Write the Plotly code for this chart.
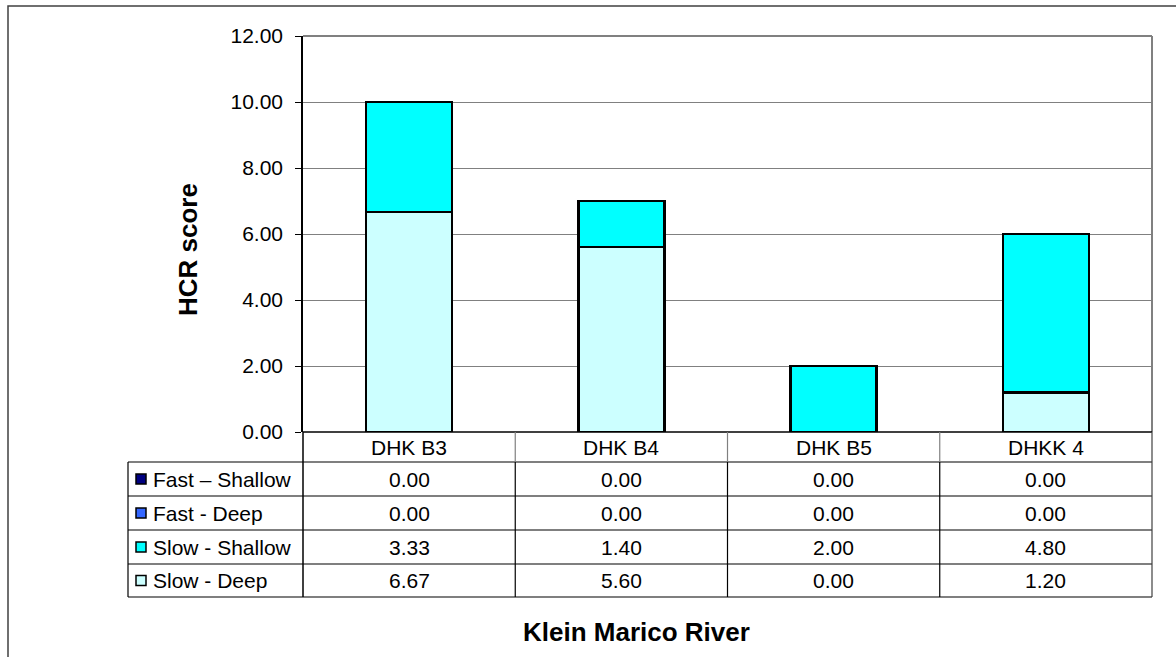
import plotly.graph_objects as go

# ---- data ----
categories = ["DHK B3", "DHK B4", "DHK B5", "DHKK 4"]
series_names = ["Fast \u2013 Shallow", "Fast - Deep", "Slow - Shallow", "Slow - Deep"]
fast_shallow = [0.00, 0.00, 0.00, 0.00]
fast_deep = [0.00, 0.00, 0.00, 0.00]
slow_shallow = [3.33, 1.40, 2.00, 4.80]
slow_deep = [6.67, 5.60, 0.00, 1.20]
series_colors = ["#000080", "#3366FF", "#00FFFF", "#CCFFFF"]
y_title = "HCR score"
x_title = "Klein Marico River"

W, H = 1176, 657
L, R, T, B = 303, 1152, 36, 432  # plot area in pixels
FONT = "Liberation Sans, Arial, sans-serif"
FS = 21


def px(x):
    return (x - L) / (R - L)


def py(y):
    return (B - y) / (B - T)


fig = go.Figure()
series_values = [fast_shallow, fast_deep, slow_shallow, slow_deep]
# stack from bottom: Slow - Deep, Slow - Shallow, Fast - Deep, Fast - Shallow
for idx in [3, 2, 1, 0]:
    fig.add_trace(go.Bar(
        x=categories, y=series_values[idx], name=series_names[idx],
        marker=dict(color=series_colors[idx], line=dict(color="black", width=2.5)),
        showlegend=False,
    ))

shapes = []
annotations = []


def hline(y, x0, x1, color="black", width=1):
    shapes.append(dict(type="line", xref="paper", yref="paper",
                       x0=px(x0), x1=px(x1), y0=py(y), y1=py(y),
                       line=dict(color=color, width=width)))


def vline(x, y0, y1, color="black", width=1):
    shapes.append(dict(type="line", xref="paper", yref="paper",
                       x0=px(x), x1=px(x), y0=py(y0), y1=py(y1),
                       line=dict(color=color, width=width)))


# outer chart border (extends beyond the visible picture)
shapes.append(dict(type="rect", xref="paper", yref="paper",
                   x0=px(8), x1=px(1300), y0=py(6), y1=py(800),
                   line=dict(color="#404040", width=1.5), layer="below"))
# plot area border (top / right gray)
hline(T, L, R, color="#808080", width=2)
vline(R, T, B, color="#808080", width=2)

# table geometry
tab_left = 128
row_edges = [462, 496, 530, 564, 597]
ncat = len(categories)
col_w = (R - L) / ncat
col_edges = [L + i * col_w for i in range(ncat + 1)]

hline(B, L, R, color="black", width=1.5)
for y in row_edges:
    hline(y, tab_left, R, color="black", width=1.2)
vline(tab_left, row_edges[0], row_edges[-1], color="black", width=1.2)
vline(L, B, row_edges[-1], color="black", width=1.5)
for x in col_edges[1:-1]:
    vline(x, B, row_edges[0], color="#808080", width=1.2)
    vline(x, row_edges[0], row_edges[-1], color="black", width=1.2)
vline(R, B, row_edges[-1], color="#404040", width=1.2)

# header labels
for i, cat in enumerate(categories):
    annotations.append(dict(xref="paper", yref="paper",
                            x=px(col_edges[i] + col_w / 2), y=py((B + row_edges[0]) / 2),
                            text=cat, showarrow=False, xanchor="center", yanchor="middle",
                            font=dict(family=FONT, size=FS, color="black")))

# rows
for r, (name, vals, col) in enumerate(zip(series_names, series_values, series_colors)):
    yc = (row_edges[r] + row_edges[r + 1]) / 2
    shapes.append(dict(type="rect", xref="paper", yref="paper",
                       x0=px(136), x1=px(146), y0=py(yc - 5), y1=py(yc + 5),
                       fillcolor=col, line=dict(color="black", width=1.5)))
    annotations.append(dict(xref="paper", yref="paper", x=px(151), y=py(yc),
                            text=name, showarrow=False, xanchor="left", yanchor="middle",
                            font=dict(family=FONT, size=FS, color="black")))
    for i, v in enumerate(vals):
        annotations.append(dict(xref="paper", yref="paper",
                                x=px(col_edges[i] + col_w / 2), y=py(yc),
                                text=f"{v:.2f}", showarrow=False,
                                xanchor="center", yanchor="middle",
                                font=dict(family=FONT, size=FS, color="black")))

# axis titles
annotations.append(dict(xref="paper", yref="paper", x=px(188), y=py(250),
                        text=f"<b>{y_title}</b>", textangle=-90, showarrow=False,
                        xanchor="center", yanchor="middle",
                        font=dict(family=FONT, size=26, color="black")))
annotations.append(dict(xref="paper", yref="paper", x=px(636), y=py(632),
                        text=f"<b>{x_title}</b>", showarrow=False,
                        xanchor="center", yanchor="middle",
                        font=dict(family=FONT, size=26, color="black")))

fig.update_layout(
    width=W, height=H, autosize=False,
    margin=dict(l=L, r=W - R, t=T, b=H - B, pad=0),
    paper_bgcolor="white", plot_bgcolor="white",
    barmode="stack", bargap=0.595,
    shapes=shapes, annotations=annotations,
    font=dict(family=FONT, size=FS, color="black"),
    xaxis=dict(type="category", range=[-0.5, ncat - 0.5], showticklabels=False,
               ticks="", showgrid=False, zeroline=False, showline=False, fixedrange=True),
    yaxis=dict(range=[0, 12], dtick=2, tickformat=".2f", showgrid=True,
               gridcolor="#808080", gridwidth=1, zeroline=False,
               showline=True, linecolor="black", linewidth=1.5,
               ticks="outside", ticklen=6, tickcolor="black", tickwidth=1,
               ticklabelstandoff=8,
               tickfont=dict(family=FONT, size=FS, color="black"), fixedrange=True),
)

fig.write_html("out.html", config={"displayModeBar": False})
